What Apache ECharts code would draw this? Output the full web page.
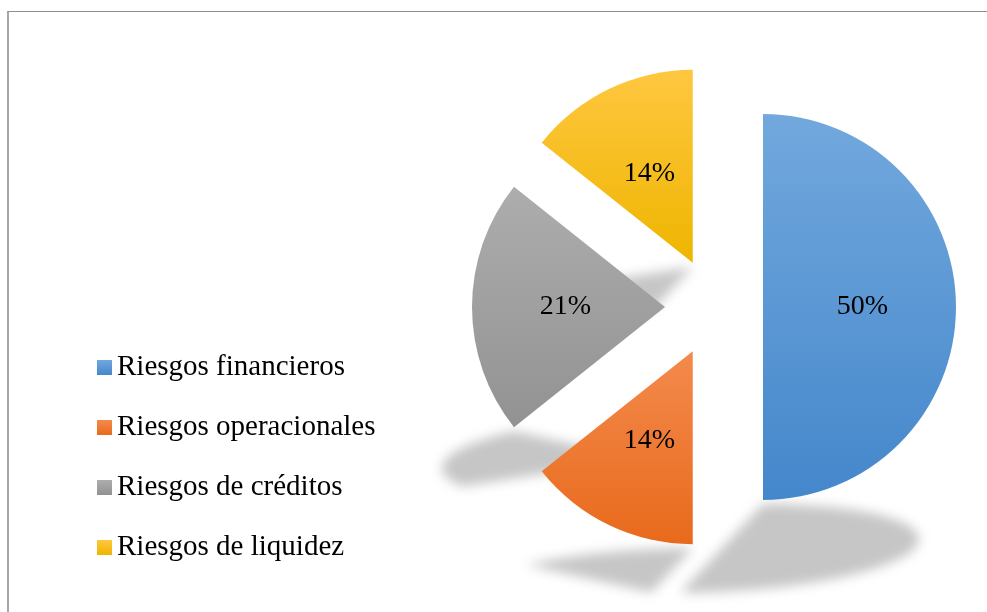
<!DOCTYPE html>
<html>
<head>
<meta charset="utf-8">
<script src="https://cdn.jsdelivr.net/npm/echarts@6/dist/echarts.min.js"></script>
<style>
html,body{margin:0;padding:0;background:#fff;overflow:hidden;width:987px;height:612px;}
#frame{position:absolute;left:7px;top:11px;width:1000px;height:620px;border-top:1px solid #8e8e8e;border-left:2px solid #a6a6a6;}
.layer{position:absolute;left:0;top:0;width:987px;height:612px;}
.blur{position:absolute;left:0;top:0;width:987px;height:612px;filter:blur(6px);}
</style>
</head>
<body>
<div id="frame"></div>
<div id="shadows"></div>
<div class="layer" id="main"></div>
<script>
var categories = ['Riesgos financieros', 'Riesgos operacionales', 'Riesgos de créditos', 'Riesgos de liquidez'];
var shares = [50, 14.3, 21.4, 14.3];

var colorTop = ['#72a8dd', '#f48a4c', '#adadad', '#ffc740'];
var colorBottom = ['#4487cb', '#e86a1c', '#929292', '#eeb500'];

var PIE_CENTER = [714, 307];
var PIE_RADIUS = 193;
var PIE_OFFSET = 49;
var FONT = "'Liberation Serif', 'Times New Roman', serif";

function pieOption(colorFor, showText){
    return {
        animation: false,
        legend: {
            show: showText,
            orient: 'vertical',
            left: 97,
            top: 353,
            padding: 0,
            itemWidth: 15,
            itemHeight: 15,
            itemGap: 31,
            icon: 'rect',
            selectedMode: false,
            textStyle: {fontFamily: FONT, fontSize: 29, color: '#000'}
        },
        series: [
            {
                type: 'pie',
                center: PIE_CENTER,
                radius: PIE_RADIUS,
                startAngle: 90,
                selectedMode: 'multiple',
                selectedOffset: PIE_OFFSET,
                silent: true,
                emphasis: {disabled: true},
                label: {
                    show: showText,
                    position: 'inside',
                    padding: [9, 0, 0, 0],
                    fontFamily: FONT,
                    fontSize: 28,
                    color: '#000',
                    formatter: function(p){ return Math.round(p.value) + '%'; }
                },
                labelLine: {show: false},
                data: categories.map(function(name, i){
                    return {
                        name: name,
                        value: shares[i],
                        selected: true,
                        itemStyle: {color: colorFor(i)}
                    };
                })
            }
        ]
    };
}

var myChart = echarts.init(document.getElementById('main'));
myChart.setOption(pieOption(function(i){
    return new echarts.graphic.LinearGradient(0, 0, 0, 1, [
        {offset: 0, color: colorTop[i]},
        {offset: 1, color: colorBottom[i]}
    ]);
}, true));

// lowest point of every exploded slice, where its perspective shadow starts
function sliceBottom(i){
    var lay;
    try {
        lay = myChart.getModel().getSeriesByIndex(0).getData().getItemLayout(i);
    } catch(e) {}
    if(!lay){
        var total = shares.reduce(function(a, b){ return a + b; }, 0);
        var before = shares.slice(0, i).reduce(function(a, b){ return a + b; }, 0);
        lay = {cx: PIE_CENTER[0], cy: PIE_CENTER[1], r: PIE_RADIUS,
            startAngle: -Math.PI / 2 + before / total * Math.PI * 2,
            endAngle: -Math.PI / 2 + (before + shares[i]) / total * Math.PI * 2};
    }
    var mid = (lay.startAngle + lay.endAngle) / 2;
    var oy = Math.sin(mid) * PIE_OFFSET;
    var maxY = lay.cy + oy;
    for(var k = 0; k <= 60; k++){
        var a = lay.startAngle + (lay.endAngle - lay.startAngle) * k / 60;
        maxY = Math.max(maxY, lay.cy + oy + lay.r * Math.sin(a));
    }
    return maxY;
}

var holder = document.getElementById('shadows');
categories.forEach(function(name, i){
    var outer = document.createElement('div');
    outer.className = 'blur';
    var inner = document.createElement('div');
    inner.className = 'layer';
    outer.appendChild(inner);
    holder.appendChild(outer);
    var base = sliceBottom(i);
    inner.style.transformOrigin = '0px ' + base + 'px';
    inner.style.transform = 'translateY(4px) skewX(-43deg) scaleY(-0.23)';
    var c = echarts.init(inner);
    c.setOption(pieOption(function(j){ return j === i ? '#c6c6c6' : 'rgba(0,0,0,0)'; }, false));
});
</script>
</body>
</html>
